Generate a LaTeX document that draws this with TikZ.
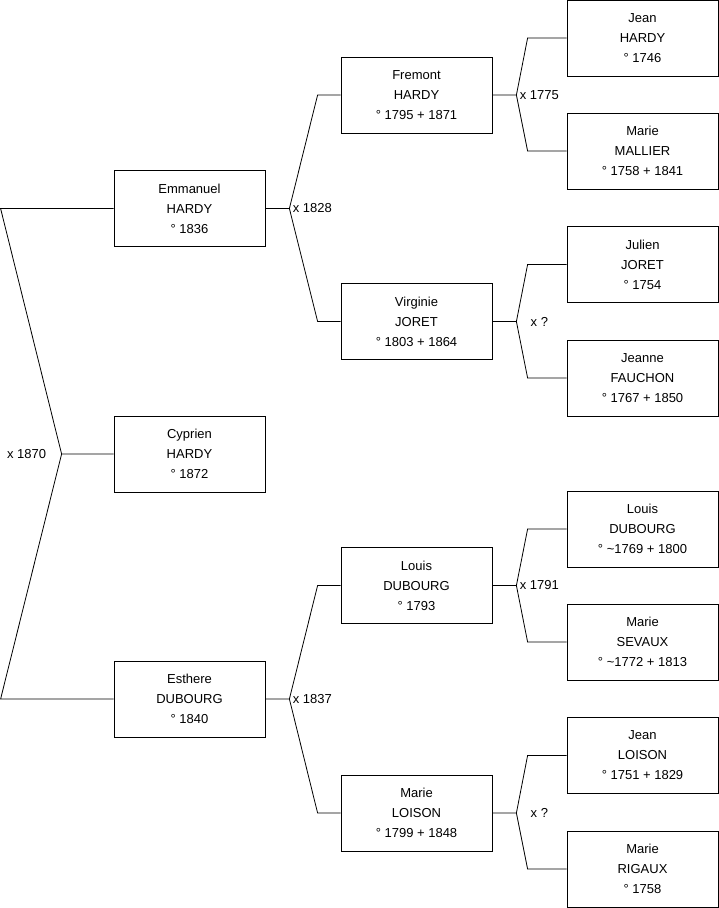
\documentclass[tikz,border=0pt]{standalone}
\usepackage{fontspec}
\setmainfont{Liberation Sans}
\usetikzlibrary{calc}
\tikzset{person/.style={draw, line width=0.8pt, minimum width=151pt, minimum height=76pt, inner sep=0pt,
    align=center, font=\fontsize{13}{20}\selectfont},
  wed/.style={font=\fontsize{13}{15}\selectfont, inner sep=0pt}}
% #1 child, #2 bend offset, #3 father, #4 mother, #5 label
\newcommand{\wedding}[5]{\draw (#1.east) -- ++(24,0) coordinate (#1-m) -- ($(#3.west)+(#2,0)$) -- (#3.west);
  \draw (#1-m) -- ($(#4.west)+(#2,0)$) -- (#4.west);
  \node[wed] at ($(#1-m)+(23,0)$) {#5};}

\begin{document}
\begin{tikzpicture}[x=1pt, y=-1pt, line width=0.8pt]
  \useasboundingbox (0,0) rectangle (719,908);
  % generation 1 and 2
  \node[person] (cyprien) at (189.5,454) {Cyprien\\HARDY\\° 1872};
  \node[person] (emmanuel) at (189.5,208.5) {Emmanuel\\HARDY\\° 1836};
  \node[person] (esthere) at (189.5,699) {Esthere\\DUBOURG\\° 1840};
  % generation 3
  \node[person] (fremont) at (416.5,95) {Fremont\\HARDY\\° 1795 + 1871};
  \node[person] (virginie) at (416.5,321.5) {Virginie\\JORET\\° 1803 + 1864};
  \node[person] (louis) at (416.5,585.5) {Louis\\DUBOURG\\° 1793};
  \node[person] (marie) at (416.5,813) {Marie\\LOISON\\° 1799 + 1848};
  % generation 4
  \node[person] (jeanH) at (642.5,38) {Jean\\HARDY\\° 1746};
  \node[person] (marieM) at (642.5,151) {Marie\\MALLIER\\° 1758 + 1841};
  \node[person] (julienJ) at (642.5,264.5) {Julien\\JORET\\° 1754};
  \node[person] (jeanneF) at (642.5,378) {Jeanne\\FAUCHON\\° 1767 + 1850};
  \node[person] (louisD) at (642.5,529) {Louis\\DUBOURG\\° \textasciitilde1769 + 1800};
  \node[person] (marieS) at (642.5,642) {Marie\\SEVAUX\\° \textasciitilde1772 + 1813};
  \node[person] (jeanL) at (642.5,755.5) {Jean\\LOISON\\° 1751 + 1829};
  \node[person] (marieR) at (642.5,869) {Marie\\RIGAUX\\° 1758};
  % parents of cyprien
  \coordinate (apex) at ($(cyprien.west)+(-52,0)$);
  \draw (emmanuel.west) -- ++(-113,0) -- (apex) -- (cyprien.west);
  \draw (apex) -- ($(esthere.west)+(-113,0)$) -- (esthere.west);
  \node[wed] at ($(apex)+(-35,0)$) {x 1870};
  % other marriages
  \wedding{emmanuel}{-23}{fremont}{virginie}{x 1828}
  \wedding{esthere}{-23}{louis}{marie}{x 1837}
  \wedding{fremont}{-39}{jeanH}{marieM}{x 1775}
  \wedding{virginie}{-39}{julienJ}{jeanneF}{x ?}
  \wedding{louis}{-39}{louisD}{marieS}{x 1791}
  \wedding{marie}{-39}{jeanL}{marieR}{x ?}
\end{tikzpicture}
\end{document}
